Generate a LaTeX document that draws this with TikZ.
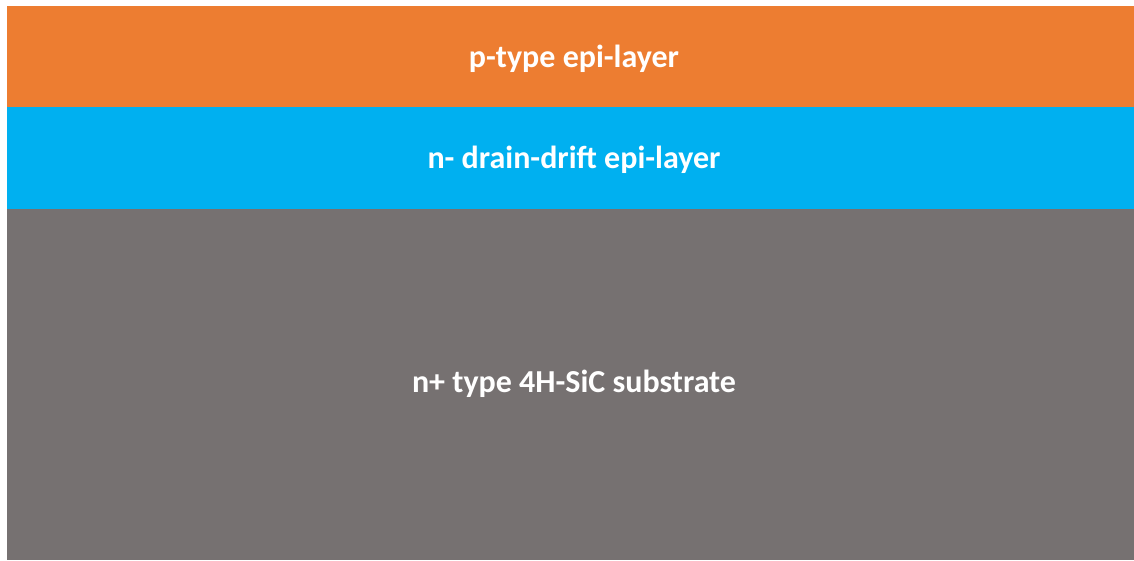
\documentclass[tikz,border=0pt]{standalone}
\usepackage{fontspec}
\setmainfont{Carlito}
\definecolor{porange}{HTML}{ED7D31}
\definecolor{nblue}{HTML}{00B0F0}
\definecolor{sgray}{HTML}{767171}
\begin{document}
\begin{tikzpicture}[x=1pt,y=-1pt,
  layer/.style={draw=none,inner sep=0pt,outer sep=0pt},
  lbl/.style={text=white,font=\bfseries\fontsize{32}{36}\selectfont}]
\useasboundingbox (0,0) rectangle (1134,560);
\fill[white] (0,0) rectangle (1134,560);
\node[layer,fill=porange,minimum width=1127pt,minimum height=101pt,anchor=north west] (pl) at (7,6) {};
\node[layer,fill=nblue,minimum width=1127pt,minimum height=102pt,anchor=north west] (nl) at (7,107) {};
\node[layer,fill=sgray,minimum width=1127pt,minimum height=351pt,anchor=north west] (sub) at (7,209) {};
\node[lbl] (t1) at (574,59) {p-type epi-layer};
\node[lbl] (t2) at (574,160) {n- drain-drift epi-layer};
\node[lbl] (t3) at (574,384) {n+ type 4H-SiC substrate};
\end{tikzpicture}
\end{document}
